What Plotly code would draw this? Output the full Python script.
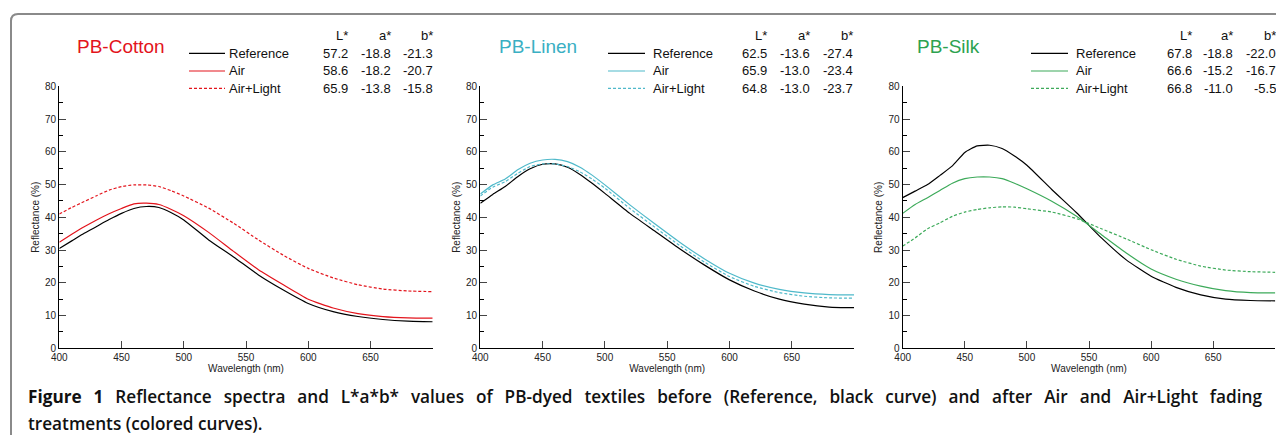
import plotly.graph_objects as go

# The page body keeps the browser's default 8px margin, so the figure is drawn
# 16px smaller than the window and every position below is given in window pixels.
PAGE_W, PAGE_H = 1284, 443
BODY_MARGIN = 8
W, H = PAGE_W - 2 * BODY_MARGIN, PAGE_H - 2 * BODY_MARGIN

wavelength = [400, 410, 420, 430, 440, 450, 460, 470, 480, 490, 500,
              520, 540, 560, 580, 600, 620, 640, 660, 680, 700]

cotton_ref = [30.5, 32.8, 35.1, 37.2, 39.3, 41.2, 42.7, 43.3, 43.0, 41.4, 39.2,
              33.1, 27.9, 22.4, 17.8, 13.7, 11.2, 9.7, 8.8, 8.3, 8.1]
cotton_air = [32.4, 34.8, 37.1, 39.2, 41.1, 42.7, 44.1, 44.3, 43.9, 42.4, 40.5,
              35.4, 29.6, 24.0, 19.4, 15.0, 12.3, 10.6, 9.7, 9.3, 9.2]
cotton_airlight = [41.0, 43.0, 44.8, 46.6, 48.3, 49.4, 49.9, 49.9, 49.4, 48.1, 46.5,
                   42.8, 38.2, 33.1, 28.4, 24.4, 21.5, 19.4, 18.1, 17.5, 17.3]

linen_ref = [44.3, 47.0, 49.4, 52.4, 54.8, 56.2, 56.3, 55.3, 53.1, 50.3, 47.3,
             41.2, 35.8, 30.4, 25.4, 20.9, 17.5, 15.0, 13.5, 12.6, 12.4]
linen_air = [47.1, 49.9, 51.7, 54.5, 56.5, 57.5, 57.7, 57.0, 55.3, 52.8, 49.9,
             43.8, 38.0, 32.4, 27.3, 22.9, 19.9, 18.0, 16.9, 16.4, 16.3]
linen_airlight = [46.5, 49.2, 50.9, 53.4, 55.5, 56.3, 56.3, 55.5, 53.9, 51.6, 48.9,
                  42.7, 37.0, 31.4, 26.3, 21.9, 18.9, 17.0, 15.9, 15.4, 15.3]

silk_ref = [46.0, 48.0, 50.0, 52.8, 55.7, 59.8, 61.8, 62.0, 61.0, 58.7, 55.9,
            48.5, 41.4, 33.7, 27.0, 22.0, 18.6, 16.3, 15.0, 14.6, 14.5]
silk_air = [41.2, 43.9, 46.0, 48.2, 50.4, 51.8, 52.3, 52.3, 51.8, 50.4, 48.7,
            44.9, 40.3, 34.7, 29.1, 24.2, 21.1, 19.0, 17.6, 17.0, 16.9]
silk_airlight = [31.2, 33.7, 36.5, 38.3, 40.3, 41.6, 42.4, 42.9, 43.2, 43.1, 42.6,
                 41.6, 39.6, 36.5, 33.4, 30.1, 27.2, 25.1, 23.9, 23.4, 23.2]

panel_titles = ["PB-Cotton", "PB-Linen", "PB-Silk"]
series_names = ["Reference", "Air", "Air+Light"]
lab_headers = ["L*", "a*", "b*"]
cotton_lab = [["57.2", "-18.8", "-21.3"], ["58.6", "-18.2", "-20.7"], ["65.9", "-13.8", "-15.8"]]
linen_lab = [["62.5", "-13.6", "-27.4"], ["65.9", "-13.0", "-23.4"], ["64.8", "-13.0", "-23.7"]]
silk_lab = [["67.8", "-18.8", "-22.0"], ["66.6", "-15.2", "-16.7"], ["66.8", "-11.0", "-5.5"]]
x_ticks = [400, 450, 500, 550, 600, 650]
caption_words_line1 = ["<b>Figure", "1</b>", "Reflectance", "spectra", "and", "L*a*b*", "values",
                       "of", "PB-dyed", "textiles", "before", "(Reference,", "black", "curve)",
                       "and", "after", "Air", "and", "Air+Light", "fading"]
caption_line2 = "treatments (colored curves)."

colors = ["#e3141c", "#3aafc3", "#2da24f"]
line_colors = ["#e3141c", "#4fb9ca", "#3daa5a"]

panels = [
    (cotton_ref, cotton_air, cotton_airlight, cotton_lab),
    (linen_ref, linen_air, linen_airlight, linen_lab),
    (silk_ref, silk_air, silk_airlight, silk_lab),
]

# layout geometry (window pixels)
x_domains_px = [(59.3, 432.7), (480.3, 854.1), (902.7, 1275.3)]
y_domain_px = (86.3, 348.3)
title_x_px = [75, 497, 915]
leg_line_px = [(189, 225), (608, 645), (1031, 1068)]
leg_text_px = [227, 650.7, 1074]
col_right_px = [(350, 392.5, 435), (769.3, 812, 854.7), (1193.7, 1235.3, 1278)]
header_y_px = 36
row_y_px = [53.3, 71, 88.3]


def px(x):
    return (x - BODY_MARGIN) / W


def py(y):
    return 1 - (y - BODY_MARGIN) / H


FONT = "Liberation Sans, Arial, sans-serif"

fig = go.Figure()
annotations = []
shapes = []
layout_axes = {}

for i, (ref, air, al, lab) in enumerate(panels):
    n = "" if i == 0 else str(i + 1)
    xa, ya = "x" + n, "y" + n
    ys = [ref, air, al]
    for j, name in enumerate(series_names):
        col = "#000000" if j == 0 else line_colors[i]
        dash = "solid" if j < 2 else "3px,2px"
        fig.add_trace(go.Scatter(
            x=wavelength, y=ys[j], mode="lines", name=name,
            xaxis=xa, yaxis=ya, showlegend=False,
            line=dict(color=col, width=1.2, dash=dash, shape="spline", smoothing=0.5),
        ))
        # legend key
        shapes.append(dict(type="line", xref="paper", yref="paper",
                           x0=px(leg_line_px[i][0]), x1=px(leg_line_px[i][1]),
                           y0=py(row_y_px[j]), y1=py(row_y_px[j]),
                           line=dict(color=col, width=1.2, dash=dash)))
        annotations.append(dict(
            text=name, x=px(leg_text_px[i]), y=py(row_y_px[j]), xref="paper", yref="paper",
            xanchor="left", yanchor="middle", showarrow=False,
            font=dict(family=FONT, size=13, color="#111"),
        ))
    layout_axes["xaxis" + n] = dict(
        domain=[px(x_domains_px[i][0]), px(x_domains_px[i][1])], anchor=ya, automargin=False,
        range=[400, 700], tickvals=x_ticks, ticks="inside", ticklen=7, tickwidth=1.2,
        showline=True, linecolor="#000", linewidth=1.3, showgrid=False, zeroline=False,
        tickfont=dict(family=FONT, size=10, color="#222"),
        title=dict(text="Wavelength (nm)", font=dict(family=FONT, size=10, color="#222"), standoff=0),
    )
    layout_axes["yaxis" + n] = dict(
        domain=[py(y_domain_px[1]), py(y_domain_px[0])], anchor=xa, automargin=False,
        range=[0, 80], dtick=10, ticks="inside", ticklen=7, tickwidth=1.2,
        minor=dict(dtick=5, ticks="inside", ticklen=4, tickwidth=1.2, tickcolor="#000"),
        showline=True, linecolor="#000", linewidth=1.3, showgrid=False, zeroline=False,
        tickfont=dict(family=FONT, size=10, color="#222"),
        title=dict(text="Reflectance (%)", font=dict(family=FONT, size=10, color="#222"), standoff=3),
    )
    annotations.append(dict(
        text=panel_titles[i], x=px(title_x_px[i]), y=py(47), xref="paper", yref="paper",
        xanchor="left", yanchor="middle", showarrow=False,
        font=dict(family=FONT, size=19, color=colors[i]),
    ))
    for c in range(3):
        annotations.append(dict(
            text=lab_headers[c], x=px(col_right_px[i][c]), y=py(header_y_px),
            xref="paper", yref="paper", xanchor="right", yanchor="middle", showarrow=False,
            font=dict(family=FONT, size=13, color="#111"),
        ))
        for r in range(3):
            annotations.append(dict(
                text=lab[r][c], x=px(col_right_px[i][c]), y=py(row_y_px[r]),
                xref="paper", yref="paper", xanchor="right", yanchor="middle", showarrow=False,
                font=dict(family=FONT, size=13, color="#111"),
            ))

# justified first caption line: widened word gaps
CAP_FONT = "Open Sans, Noto Sans, sans-serif"
gap = " \u2004\u200a"
caption_line1 = gap.join(caption_words_line1)
annotations.append(dict(
    text=caption_line1, x=px(26), y=py(396), xref="paper", yref="paper",
    xanchor="left", yanchor="middle", showarrow=False, align="left",
    font=dict(family=CAP_FONT, size=17.2, color="#111", weight=600),
))
annotations.append(dict(
    text=caption_line2, x=px(26), y=py(423), xref="paper", yref="paper",
    xanchor="left", yanchor="middle", showarrow=False, align="left",
    font=dict(family=CAP_FONT, size=17.2, color="#111", weight=600),
))

# rounded frame (top-left corner)
r = 7
fx, fy = 11, 14
path = (f"M {px(fx)},{py(PAGE_H + 10)} L {px(fx)},{py(fy + r)} "
        f"Q {px(fx)},{py(fy)} {px(fx + r)},{py(fy)} L {px(PAGE_W + 10)},{py(fy)}")
shapes.append(dict(type="path", path=path, xref="paper", yref="paper",
                   line=dict(color="#8a8a8a", width=2)))

fig.update_layout(
    width=W, height=H, margin=dict(l=0, r=0, t=0, b=0, autoexpand=False),
    paper_bgcolor="white", plot_bgcolor="white",
    annotations=annotations, shapes=shapes, showlegend=False,
    **layout_axes,
)

fig.write_html("out.html", config={"displayModeBar": False})
